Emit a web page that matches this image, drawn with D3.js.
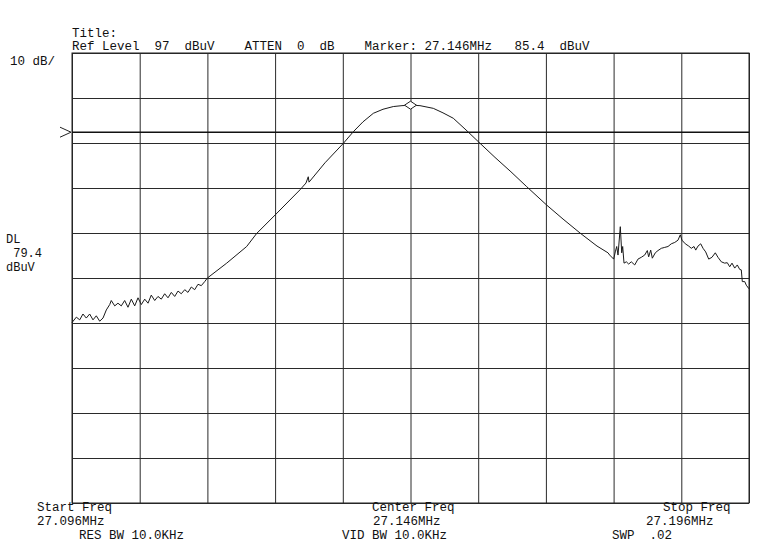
<!DOCTYPE html>
<html>
<head>
<meta charset="utf-8">
<script src="https://cdn.jsdelivr.net/npm/d3@7"></script>
<style>
  html, body { margin: 0; padding: 0; background: #fff; }
  text { font-family: "Liberation Mono", "DejaVu Sans Mono", monospace; font-size: 12.5px; fill: #111; white-space: pre; }
  text.side { font-size: 12px; }
</style>
</head>
<body>
<div id="chart"></div>
<script>
// sweep settings
const startFreq = 27.096;
const stopFreq = 27.196;
const refLevel = 97;
const bottomLevel = -3;
const displayLine = 79.4;
const markerFreq = 27.146;
const markerLevel = 85.4;

// graticule lines (10 divisions each way)
const freqGrid = [27.096, 27.106, 27.116, 27.126, 27.136, 27.146, 27.156, 27.166, 27.176, 27.186, 27.196];
const levelGrid = [97, 87, 77, 67, 57, 47, 37, 27, 17, 7, -3];

// trace, MHz / dBuV
const traceFreq = [
  27.09600, 27.09664, 27.09714, 27.09762, 27.09811, 27.09861, 27.09910, 27.09959, 27.10009, 27.10058,
  27.10107, 27.10157, 27.10180, 27.10231, 27.10279, 27.10328, 27.10378, 27.10427, 27.10476, 27.10526,
  27.10575, 27.10624, 27.10674, 27.10723, 27.10771, 27.10822, 27.10870, 27.10919, 27.10969, 27.11018,
  27.11067, 27.11117, 27.11166, 27.11214, 27.11265, 27.11313, 27.11362, 27.11412, 27.11461, 27.11510,
  27.11560, 27.11600,
  27.11885, 27.12180, 27.12328, 27.12600, 27.12968, 27.13056, 27.13090, 27.13101, 27.13337, 27.13607,
  27.13755, 27.13898, 27.14051, 27.14194, 27.14346, 27.14474, 27.14600, 27.14740, 27.14937, 27.15080,
  27.15232, 27.15420, 27.15601, 27.15848, 27.16084, 27.16316, 27.16612, 27.16853, 27.17104, 27.17355,
  27.17517, 27.17542, 27.17601, 27.17625, 27.17646, 27.17665, 27.17699, 27.17720, 27.17734, 27.17754,
  27.17788, 27.17823, 27.17861, 27.17912, 27.17960, 27.18009, 27.18059, 27.18098, 27.18118, 27.18148,
  27.18172, 27.18216, 27.18256, 27.18305, 27.18355, 27.18404, 27.18452, 27.18503, 27.18551, 27.18585,
  27.18610, 27.18659, 27.18709, 27.18748, 27.18788, 27.18813, 27.18847, 27.18887, 27.18921, 27.18960,
  27.19005, 27.19053, 27.19102, 27.19142, 27.19191, 27.19241, 27.19279, 27.19315, 27.19349, 27.19389,
  27.19427, 27.19463, 27.19486, 27.19501, 27.19537, 27.19560, 27.19600
];
const traceLevel = [
  37.1, 38.3, 37.7, 39.0, 38.1, 39.0, 37.7, 38.6, 37.4, 38.1,
  39.9, 41.1, 42.0, 40.8, 41.4, 40.8, 42.0, 40.5, 42.3, 40.8,
  42.6, 41.1, 42.3, 41.4, 43.2, 42.0, 42.9, 42.3, 43.5, 42.6,
  43.8, 42.9, 44.1, 43.5, 44.4, 43.8, 45.0, 44.4, 45.6, 45.3,
  46.2, 47.0,
  50.3, 54.0, 56.9, 61.0, 66.6, 68.1, 69.5, 68.3, 72.6, 76.9,
  79.5, 81.7, 83.6, 84.5, 85.1, 85.3, 85.4, 85.3, 84.7, 83.7,
  82.5, 79.9, 77.3, 73.8, 70.6, 67.3, 63.2, 60.1, 57.0, 54.1,
  52.6, 52.1, 51.2, 52.8, 54.0, 52.1, 58.4, 52.6, 54.0, 50.3,
  50.6, 50.1, 50.6, 49.9, 51.2, 51.6, 52.1, 53.1, 51.7, 53.2,
  51.4, 52.6, 53.1, 53.6, 53.8, 54.0, 54.6, 54.9, 55.4, 56.6,
  55.4, 54.6, 54.1, 53.6, 54.0, 53.2, 54.1, 54.6, 53.6, 52.8,
  51.2, 51.6, 52.6, 51.6, 50.6, 50.3, 50.4, 49.5, 50.3, 49.2,
  49.9, 48.9, 48.8, 46.2, 46.2, 45.4, 44.6
];

const width = 773;
const height = 560;
const plotL = 72, plotR = 749, plotT = 53, plotB = 503;

const svg = d3.select("#chart")
  .append("svg")
  .attr("width", width)
  .attr("height", height);

svg.append("rect")
  .attr("width", width)
  .attr("height", height)
  .attr("fill", "#fff");

const x = d3.scaleLinear().domain([startFreq, stopFreq]).range([plotL, plotR]);
const y = d3.scaleLinear().domain([bottomLevel, refLevel]).range([plotB, plotT]);

// graticule drawn with axes, ticks stretched across the plot
const gx = svg.append("g")
  .attr("transform", `translate(0,${plotB})`)
  .call(d3.axisBottom(x).tickValues(freqGrid).tickSize(-(plotB - plotT)).tickFormat(""));
const gy = svg.append("g")
  .attr("transform", `translate(${plotL},0)`)
  .call(d3.axisLeft(y).tickValues(levelGrid).tickSize(-(plotR - plotL)).tickFormat(""));
[gx, gy].forEach(g => {
  g.select(".domain").remove();
  g.selectAll(".tick line").attr("stroke", "#2a2a2a").attr("stroke-width", 1);
});

svg.append("rect")
  .attr("x", plotL).attr("y", plotT)
  .attr("width", plotR - plotL).attr("height", plotB - plotT)
  .attr("fill", "none").attr("stroke", "#222").attr("stroke-width", 1);

// display line and its arrow
svg.append("line")
  .attr("x1", plotL).attr("x2", plotR)
  .attr("y1", y(displayLine)).attr("y2", y(displayLine))
  .attr("stroke", "#111").attr("stroke-width", 1.4);
svg.append("path")
  .attr("d", `M${plotL - 12},${y(displayLine) - 5}L${plotL - 1},${y(displayLine)}L${plotL - 12},${y(displayLine) + 5}`)
  .attr("fill", "none").attr("stroke", "#222").attr("stroke-width", 1);

// trace
const traceData = traceFreq.map((f, i) => ({ f: f, v: traceLevel[i] }));
const line = d3.line().x(d => x(d.f)).y(d => y(d.v));
svg.append("path")
  .datum(traceData)
  .attr("d", line)
  .attr("fill", "none")
  .attr("stroke", "#1a1a1a")
  .attr("stroke-width", 1)
  .attr("stroke-linejoin", "round");

// marker diamond
const mx = x(markerFreq), my = y(markerLevel);
svg.append("path")
  .attr("d", `M${mx - 6},${my}L${mx},${my - 4}L${mx + 6},${my}L${mx},${my + 4}Z`)
  .attr("fill", "#fff").attr("stroke", "#222").attr("stroke-width", 1);

// header and footer text
const labels = [
  { x: 72, y: 37, t: "Title:" },
  { x: 72, y: 50, t: "Ref Level  97  dBuV    ATTEN  0  dB    Marker: " + markerFreq.toFixed(3) + "MHz   " + markerLevel + "  dBuV" },
  { x: 10, y: 65, t: "10 dB/" },
  { x: 6, y: 243, t: "DL", c: "side" },
  { x: 6, y: 257, t: " " + displayLine, c: "side" },
  { x: 6, y: 271, t: "dBuV", c: "side" },
  { x: 37, y: 511, t: "Start Freq" },
  { x: 37, y: 525, t: startFreq.toFixed(3) + "MHz" },
  { x: 79, y: 539, t: "RES BW 10.0KHz" },
  { x: 372, y: 511, t: "Center Freq" },
  { x: 373, y: 525, t: markerFreq.toFixed(3) + "MHz" },
  { x: 342, y: 539, t: "VID BW 10.0KHz" },
  { x: 663, y: 511, t: "Stop Freq" },
  { x: 646, y: 525, t: stopFreq.toFixed(3) + "MHz" },
  { x: 612, y: 539, t: "SWP  .02" }
];
svg.selectAll("text.lbl")
  .data(labels)
  .enter().append("text")
  .attr("class", d => "lbl " + (d.c || ""))
  .attr("x", d => d.x)
  .attr("y", d => d.y)
  .attr("xml:space", "preserve")
  .text(d => d.t);
</script>
</body>
</html>
